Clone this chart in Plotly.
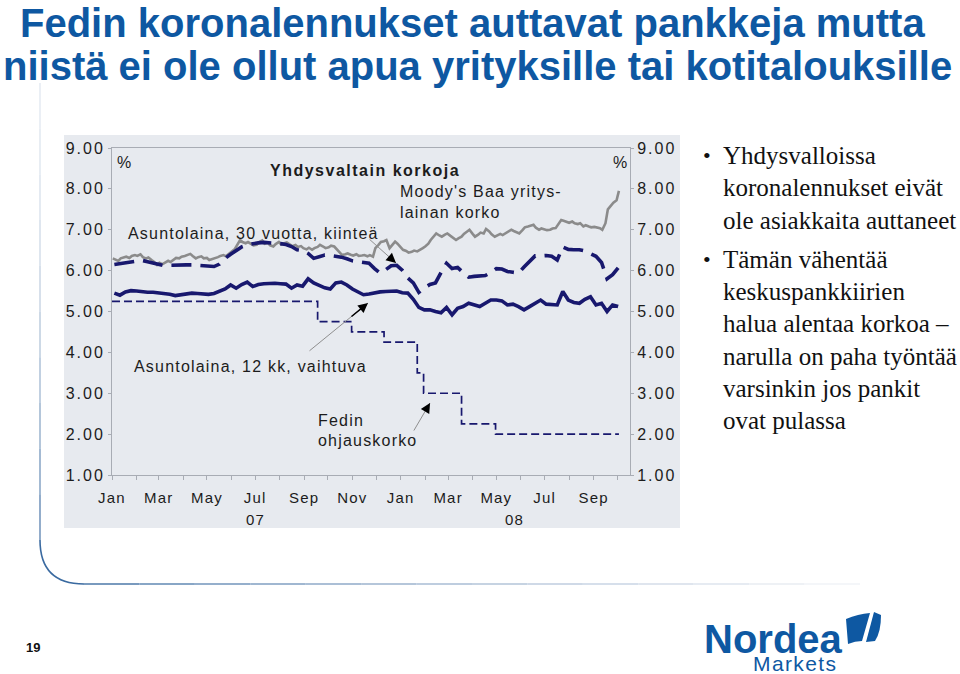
import plotly.graph_objects as go
import pandas as pd

# ---------------- data ----------------
fed_dates = ["2007-01-01", "2007-09-18", "2007-10-31", "2007-12-11", "2008-01-22",
             "2008-01-30", "2008-03-18", "2008-04-30", "2008-10-03"]
fed_rate = [5.25, 4.75, 4.50, 4.25, 3.50, 3.00, 2.25, 2.00, 2.00]

weekly_dates = pd.date_range("2007-01-04", periods=92, freq="7D")
arm_12m = [5.45, 5.40, 5.48, 5.51, 5.50, 5.48, 5.47, 5.47, 5.46, 5.45,
           5.42, 5.39, 5.41, 5.44, 5.45, 5.44, 5.43, 5.42, 5.44, 5.49,
           5.55, 5.65, 5.57, 5.66, 5.72, 5.61, 5.66, 5.68, 5.69, 5.69,
           5.68, 5.67, 5.57, 5.65, 5.62, 5.80, 5.70, 5.63, 5.58, 5.55,
           5.70, 5.72, 5.65, 5.55, 5.47, 5.41, 5.43, 5.46, 5.48, 5.49,
           5.50, 5.50, 5.46, 5.45, 5.30, 5.10, 5.04, 5.04, 5.00, 4.97,
           5.10, 4.92, 5.08, 5.12, 5.20, 5.17, 5.12, 5.20, 5.28, 5.28,
           5.26, 5.16, 5.18, 5.12, 5.04, 5.12, 5.20, 5.28, 5.18, 5.16,
           5.16, 5.49, 5.28, 5.22, 5.20, 5.30, 5.36, 5.16, 5.20, 5.00,
           5.16, 5.12]
fixed_30y = [6.15, 6.17, 6.19, 6.21, 6.24, 6.25, 6.22, 6.18, 6.14, 6.12,
             6.13, 6.14, 6.15, 6.14, 6.14, 6.13, 6.12, 6.11, 6.10, 6.16,
             6.30, 6.40, 6.50, 6.58, 6.63, 6.66, 6.68, 6.69, 6.68, 6.69,
             6.66, 6.64, 6.59, 6.51, 6.49, 6.42, 6.30, 6.34, 6.38, 6.37,
             6.36, 6.33, 6.29, 6.24, 6.22, 6.20, 6.18, 6.05, 5.94, 6.02,
             6.12, 6.13, 6.01, 5.82, 5.70, 5.47, 5.58, 5.66, 5.70, 5.95,
             6.18, 6.05, 6.08, 5.95, 5.84, 5.86, 5.86, 5.88, 5.95, 6.05,
             6.04, 5.98, 5.96, 5.94, 6.09, 6.23, 6.36, 6.36, 6.37, 6.35,
             6.26, 6.58, 6.52, 6.51, 6.51, 6.48, 6.42, 6.35, 6.20, 5.80,
             5.90, 6.07]

baa_dates = sorted(list(pd.date_range("2007-01-02", "2008-09-30", freq="W-TUE")) +
                   list(pd.date_range("2007-01-05", "2008-10-03", freq="W-FRI")))
baa_yield = [6.30, 6.27, 6.24, 6.30, 6.33, 6.34, 6.31, 6.36, 6.38, 6.36,
             6.40, 6.33, 6.30, 6.32, 6.26, 6.22, 6.14, 6.19, 6.16, 6.20,
             6.24, 6.21, 6.27, 6.31, 6.30, 6.34, 6.36, 6.39, 6.41, 6.36,
             6.30, 6.33, 6.35, 6.30, 6.31, 6.26, 6.28, 6.30, 6.33, 6.36,
             6.38, 6.35, 6.42, 6.45, 6.52, 6.62, 6.75, 6.70, 6.67, 6.70,
             6.66, 6.62, 6.63, 6.70, 6.74, 6.66, 6.68, 6.62, 6.59, 6.65,
             6.70, 6.64, 6.67, 6.69, 6.64, 6.60, 6.63, 6.58, 6.60, 6.55,
             6.52, 6.56, 6.51, 6.55, 6.58, 6.63, 6.59, 6.55, 6.57, 6.61,
             6.59, 6.52, 6.45, 6.38, 6.40, 6.42, 6.39, 6.37, 6.40, 6.36,
             6.37, 6.38, 6.35, 6.38, 6.34, 6.55, 6.63, 6.70, 6.72, 6.75,
             6.55, 6.62, 6.71, 6.66, 6.58, 6.51, 6.48, 6.44, 6.46, 6.49,
             6.47, 6.50, 6.55, 6.59, 6.66, 6.75, 6.85, 6.91, 6.86, 6.83,
             6.88, 6.91, 6.85, 6.80, 6.75, 6.79, 6.83, 6.90, 6.95, 7.00,
             6.90, 6.83, 6.88, 6.93, 6.91, 7.02, 6.96, 6.89, 6.83, 6.86,
             6.90, 6.87, 6.91, 6.96, 7.00, 6.97, 6.94, 6.91, 6.99, 7.06,
             7.08, 7.10, 7.12, 7.05, 7.00, 7.03, 7.01, 6.99, 7.00, 7.03,
             7.04, 7.12, 7.24, 7.22, 7.20, 7.17, 7.20, 7.16, 7.14, 7.16,
             7.08, 7.11, 7.08, 7.06, 7.07, 7.05, 7.04, 7.00, 7.16, 7.50,
             7.60, 7.66, 7.72, 7.95]

month_ticks = pd.date_range("2007-01-01", "2008-10-01", freq="MS")
month_names = ["Jan", "", "Mar", "", "May", "", "Jul", "", "Sep", "", "Nov", "",
               "Jan", "", "Mar", "", "May", "", "Jul", "", "Sep", ""]
y_ticks = [1, 2, 3, 4, 5, 6, 7, 8, 9]
y_tick_text = ["1.00", "2.00", "3.00", "4.00", "5.00", "6.00", "7.00", "8.00", "9.00"]

# ---------------- layout helpers ----------------
W, H = 960, 674
L, R, T, B = 112, 330, 148, 199
PW, PH = W - L - R, H - T - B


def px(x):
    return (x - L) / PW


def py(y):
    return (H - B - y) / PH


def ls(text, sp):
    return f'<span style="letter-spacing:{sp}px">{text}</span>'


NAVY = "#18186e"
GRAY = "#8b8b8b"
PANEL = "#e7eaef"
AXIS = "#a8acb4"
TXT = "#1c1c1c"
BLUE = "#0e58a2"
SANS = "Liberation Sans, Arial, sans-serif"

fig = go.Figure()

fig.add_trace(go.Scatter(x=baa_dates, y=baa_yield, mode="lines",
                         line=dict(color=GRAY, width=2.6), name="Moody's Baa"))
fig.add_trace(go.Scatter(x=fed_dates, y=fed_rate, mode="lines",
                         line=dict(color=NAVY, width=1.7, dash="8px,4px", shape="hv"),
                         name="Fed"))
fig.add_trace(go.Scatter(x=weekly_dates, y=fixed_30y, mode="lines",
                         line=dict(color=NAVY, width=3.6, dash="20px,9px"), name="30y"))
fig.add_trace(go.Scatter(x=weekly_dates, y=arm_12m, mode="lines",
                         line=dict(color=NAVY, width=3.6), name="12kk"))
# invisible trace on right axis
fig.add_trace(go.Scatter(x=weekly_dates[:1], y=[None], yaxis="y2", showlegend=False,
                         hoverinfo="skip"))

tick_font = dict(family=SANS, size=16, color=TXT)

fig.update_layout(
    width=W, height=H, autosize=False,
    margin=dict(l=L, r=R, t=T, b=B, pad=0),
    paper_bgcolor="white", plot_bgcolor=PANEL,
    showlegend=False,
    xaxis=dict(range=["2007-01-01", "2008-10-17"], showgrid=False, zeroline=False,
               tickvals=list(month_ticks), ticktext=[ls(t, 1.2) for t in month_names],
               ticks="outside", ticklen=4, tickcolor=AXIS, tickwidth=1,
               showline=True, linecolor=AXIS, linewidth=1, mirror=True,
               tickfont=dict(family=SANS, size=15, color=TXT), ticklabelstandoff=5),
    yaxis=dict(range=[1, 9], showgrid=False, zeroline=False,
               tickvals=y_ticks, ticktext=[ls(t, 2) for t in y_tick_text],
               ticks="outside", ticklen=3, tickcolor=AXIS,
               showline=True, linecolor=AXIS, linewidth=1, tickfont=tick_font),
    yaxis2=dict(range=[1, 9], overlaying="y", side="right", showgrid=False,
                zeroline=False, tickvals=y_ticks, ticktext=[ls(t, 2) for t in y_tick_text],
                ticks="outside", ticklen=3, tickcolor=AXIS,
                showline=True, linecolor=AXIS, linewidth=1, tickfont=tick_font),
)

shapes = []
# chart panel
shapes.append(dict(type="rect", xref="paper", yref="paper", x0=px(64), x1=px(680),
                   y0=py(528), y1=py(135), fillcolor=PANEL, line=dict(width=0),
                   layer="below"))


def mix(c1, c2, t):
    a = [int(c1[i:i + 2], 16) for i in (1, 3, 5)]
    b = [int(c2[i:i + 2], 16) for i in (1, 3, 5)]
    return "#" + "".join(f"{round(a[k] + (b[k] - a[k]) * t):02x}" for k in range(3))


# slide frame decoration: faint vertical line curving into a fading horizontal line
LIGHT, DARK, FADE = "#dde5ee", "#3a6aa0", "#f6f7f9"
n = 10
for i in range(n):
    y0 = 83 + (540 - 83) * i / n
    y1 = 83 + (540 - 83) * (i + 1) / n
    shapes.append(dict(type="line", xref="paper", yref="paper", x0=px(40), x1=px(40),
                       y0=py(y0), y1=py(y1),
                       line=dict(color=mix(LIGHT, DARK, ((i + 0.5) / n) ** 2), width=1.2)))
shapes.append(dict(type="path", xref="paper", yref="paper",
                   path=f"M {px(40)},{py(540)} Q {px(40)},{py(584)} {px(84)},{py(584)}",
                   line=dict(color=DARK, width=1.6)))
m = 14
for i in range(m):
    x0 = 84 + (860 - 84) * i / m
    x1 = 84 + (860 - 84) * (i + 1) / m
    shapes.append(dict(type="line", xref="paper", yref="paper", x0=px(x0), x1=px(x1),
                       y0=py(584), y1=py(584),
                       line=dict(color=mix(DARK, FADE, ((i + 0.5) / m) ** 0.7), width=1.6)))

# Nordea sail
sail1 = (f"M {px(846)},{py(619)} Q {px(858)},{py(614)} {px(870)},{py(613)} "
         f"L {px(862)},{py(641)} Q {px(855)},{py(641)} {px(848)},{py(644)} Z")
sail2 = (f"M {px(874)},{py(612)} L {px(881)},{py(615)} Q {px(881)},{py(632)} {px(875)},{py(641)} "
         f"L {px(866)},{py(642)} Z")
for p in (sail1, sail2):
    shapes.append(dict(type="path", xref="paper", yref="paper", path=p,
                       fillcolor=BLUE, line=dict(width=0)))
fig.update_layout(shapes=shapes)

ann = []


def text(t, x, y, size=16, color=TXT, family=SANS, xanchor="left", yanchor="middle",
         bold=False, sp=None):
    s = f"<b>{t}</b>" if bold else t
    if sp:
        s = ls(s, sp)
    ann.append(dict(text=s, x=px(x), y=py(y), xref="paper", yref="paper",
                    xanchor=xanchor, yanchor=yanchor, showarrow=False,
                    font=dict(family=family, size=size, color=color)))


# title
TFONT = "Liberation Sans Narrow, Arial Narrow, Liberation Sans, sans-serif"
text("Fedin koronalennukset auttavat pankkeja mutta", 472, 23, size=40, color=BLUE,
     family=TFONT, xanchor="center", bold=True)
text("niistä ei ole ollut apua yrityksille tai kotitalouksille", 477, 66, size=40,
     color=BLUE, family=TFONT, xanchor="center", bold=True)

# chart labels
text("%", 115, 162, size=16)
text("%", 611, 162, size=16)
text("Yhdysvaltain korkoja", 365, 170, size=16, xanchor="center", bold=True, sp=1.5)
text("Moody's Baa yritys-", 398, 191, size=16, sp=1.2)
text("lainan korko", 398, 212, size=16, sp=1.2)
text("Asuntolaina, 30 vuotta, kiinteä", 126, 233, size=16, sp=1.2)
text("Asuntolaina, 12 kk, vaihtuva", 132, 366, size=16, sp=1.2)
text("Fedin", 316, 420, size=16, sp=1.2)
text("ohjauskorko", 316, 440, size=16, sp=1.2)

# year labels
ann.append(dict(text=ls("07", 1.2), x="2007-07-02", y=py(519), xref="x", yref="paper",
                showarrow=False, xanchor="center", yanchor="middle",
                font=dict(family=SANS, size=15, color=TXT)))
ann.append(dict(text=ls("08", 1.2), x="2008-05-24", y=py(519), xref="x", yref="paper",
                showarrow=False, xanchor="center", yanchor="middle",
                font=dict(family=SANS, size=15, color=TXT)))

# arrows (gray shaft + black head)
for (hx, hy, tx, ty) in [(396, 263, 368, 238), (368, 303, 308, 352), (430, 403, 413, 432)]:
    ann.append(dict(text="", x=px(hx), y=py(hy), xref="paper", yref="paper",
                    ax=tx - hx, ay=ty - hy, showarrow=True, arrowhead=0,
                    arrowwidth=1, arrowcolor="#8f8f8f", standoff=0))
    ann.append(dict(text="", x=px(hx), y=py(hy), xref="paper", yref="paper",
                    ax=(tx - hx) * 0.3, ay=(ty - hy) * 0.3, showarrow=True, arrowhead=2,
                    arrowsize=1.3, arrowwidth=1.5, arrowcolor="#000000", standoff=0))

# right bullet text
SERIF = "Liberation Serif, Times New Roman, serif"
bullet_lines = [("Yhdysvalloissa", 155, True), ("koronalennukset eivät", 187, False),
                ("ole asiakkaita auttaneet", 220, False), ("Tämän vähentää", 259, True),
                ("keskuspankkiirien", 291, False), ("halua alentaa korkoa –", 323, False),
                ("narulla on paha työntää", 356, False), ("varsinkin jos pankit", 388, False),
                ("ovat pulassa", 420, False)]
for t, y, b in bullet_lines:
    text(t, 721, y, size=25, color="#111111", family=SERIF)
    if b:
        text("•", 707, y, size=22, color="#111111", family=SERIF, xanchor="center")

# page number and logo
text("19", 33, 647, size=13, xanchor="center", bold=True, color="#111111")
text("Nordea", 702, 639, size=40, color=BLUE, family=SANS, bold=True)
text("Markets", 751, 663, size=21, color=BLUE, family=SANS, sp=1.4)

fig.update_layout(annotations=ann)
fig.write_html("out.html")
